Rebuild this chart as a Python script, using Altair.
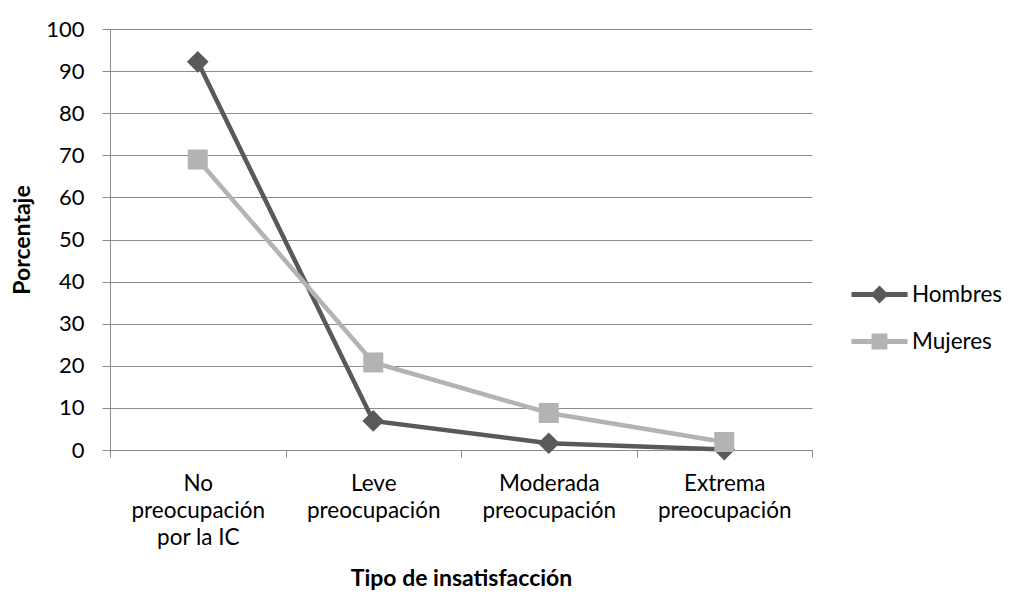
import altair as alt
import pandas as pd

categories = ["No|preocupación|por la IC", "Leve|preocupación", "Moderada|preocupación", "Extrema|preocupación"]
series = ["Hombres", "Mujeres"]
hombres = [92.2, 6.9, 1.6, 0.1]
mujeres = [69.0, 20.8, 8.8, 1.9]
colors = ["#595959", "#b3b3b3"]
legend_paths = [
    "M-1.65,0L1.65,0M0,-0.32L0.32,0L0,0.32L-0.32,0Z",
    "M-1.65,0L1.65,0M-0.32,-0.32L0.32,-0.32L0.32,0.32L-0.32,0.32Z",
]

rows = []
for s, vals in zip(series, [hombres, mujeres]):
    for c, v in zip(categories, vals):
        rows.append({"cat": c, "serie": s, "valor": v})
df = pd.DataFrame(rows)

FONT = "Lato"

x_enc = alt.X(
    "cat:N",
    sort=categories,
    bandPosition=0.5,
    scale=alt.Scale(type="band", paddingInner=0, paddingOuter=0),
    axis=alt.Axis(
        title="Tipo de insatisfacción",
        labelExpr="split(datum.label, '|')",
        labelAngle=0,
        labelFontSize=22.5,
        tickBand="extent",
        tickSize=7,
        labelPadding=15,
        labelLineHeight=27,
        titlePadding=19,
        grid=False,
    ),
)
y_enc = alt.Y(
    "valor:Q",
    scale=alt.Scale(domain=[0, 100], nice=False),
    axis=alt.Axis(
        title="Porcentaje",
        values=list(range(0, 101, 10)),
        labelFontSize=22,
        tickSize=8,
        labelPadding=18,
        titlePadding=11,
        grid=True,
    ),
)
color_scale = alt.Scale(domain=series, range=colors)

legend_def = alt.Legend(
    title=None,
    orient="none",
    legendX=750,
    legendY=246,
    symbolSize=1156,
    symbolStrokeWidth=5,
    symbolOpacity=1,
    labelOffset=13,
    rowPadding=12,
    labelFontSize=22.5,
    labelFont=FONT,
    labelColor="#000000",
)

base = alt.Chart(df)

legend_layer = base.mark_point(filled=True, opacity=0).encode(
    x=x_enc, y=y_enc,
    color=alt.Color("serie:N", scale=color_scale, legend=legend_def),
    stroke=alt.Stroke("serie:N", scale=alt.Scale(domain=series, range=colors), legend=legend_def),
    shape=alt.Shape("serie:N", scale=alt.Scale(domain=series, range=legend_paths), legend=legend_def),
)

lines = base.mark_line(strokeWidth=4.5).encode(
    x=x_enc, y=y_enc,
    color=alt.Color("serie:N", scale=color_scale, legend=None),
    detail="serie:N",
)

pts_h = base.transform_filter(alt.datum.serie == "Hombres").mark_point(
    filled=True, opacity=1, shape="diamond", size=470
).encode(x=x_enc, y=y_enc, color=alt.Color("serie:N", scale=color_scale, legend=None))

pts_m = base.transform_filter(alt.datum.serie == "Mujeres").mark_point(
    filled=True, opacity=1, shape="square", size=400
).encode(x=x_enc, y=y_enc, color=alt.Color("serie:N", scale=color_scale, legend=None))

chart = alt.layer(legend_layer, lines, pts_h, pts_m).properties(
    width=702, height=421,
    autosize=alt.AutoSizeParams(type="none"),
    padding={"left": 102, "top": 21, "right": 193, "bottom": 142},
).configure(
    font=FONT,
).configure_view(
    stroke=None,
).configure_axis(
    labelFont=FONT,
    labelColor="#000000",
    titleFont=FONT,
    titleFontSize=23,
    titleFontWeight="bold",
    titleColor="#000000",
    domainColor="#8c8c8c",
    tickColor="#8c8c8c",
    gridColor="#8c8c8c",
    domainWidth=1,
    tickWidth=1,
    gridWidth=1,
)

chart.save("out.html", embed_options={"renderer": "svg", "actions": False})
